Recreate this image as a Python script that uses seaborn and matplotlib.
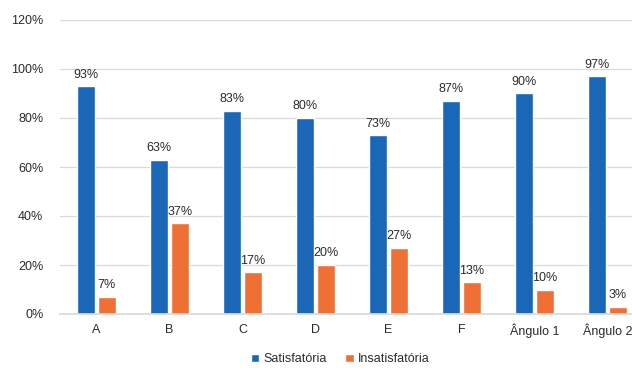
import matplotlib
matplotlib.use("Agg")
import matplotlib.pyplot as plt
from matplotlib.ticker import PercentFormatter
import seaborn as sns
import pandas as pd

categories = ["A", "B", "C", "D", "E", "F", "Ângulo 1", "Ângulo 2"]
satisfatoria = [93, 63, 83, 80, 73, 87, 90, 97]
insatisfatoria = [7, 37, 17, 20, 27, 13, 10, 3]
series_names = ["Satisfatória", "Insatisfatória"]
y_ticks = [0, 20, 40, 60, 80, 100, 120]

df = pd.DataFrame({
    "categoria": categories * 2,
    "valor": satisfatoria + insatisfatoria,
    "serie": [series_names[0]] * len(categories) + [series_names[1]] * len(categories),
})

sns.set_theme(style="white")
plt.rcParams["font.family"] = ["Liberation Sans", "DejaVu Sans"]

fig = plt.figure(figsize=(6.32, 3.68), dpi=100)
ax = fig.add_axes([60 / 632, 54 / 368, 584 / 632, 294 / 368])

palette = {series_names[0]: "#1B67B7", series_names[1]: "#EF7035"}
sns.barplot(data=df, x="categoria", y="valor", hue="serie", palette=palette,
            width=0.56, gap=0.12, ax=ax, saturation=1, legend=True)

for container in ax.containers:
    ax.bar_label(container, fmt="%d%%", padding=4, fontsize=9, color="#2b2b2b")

ax.set_ylim(0, 120)
ax.set_yticks(y_ticks)
ax.yaxis.set_major_formatter(PercentFormatter(decimals=0))
ax.grid(axis="y", color="#d9d9d9", linewidth=0.9)
ax.set_axisbelow(True)
for side in ["left", "right", "top"]:
    ax.spines[side].set_visible(False)
ax.spines["bottom"].set_color("#d9d9d9")
ax.set_xlabel("")
ax.set_ylabel("")
ax.tick_params(axis="both", length=0, labelsize=9, colors="#2b2b2b")
ax.tick_params(axis="y", pad=12)
ax.tick_params(axis="x", pad=7)

handles, labels = ax.get_legend_handles_labels()
ax.legend(handles, labels, loc="upper center", bbox_to_anchor=(340 / 632, 26 / 368),
          bbox_transform=fig.transFigure, ncol=2, frameon=False, fontsize=9,
          handlelength=0.7, handleheight=0.7, handletextpad=0.3, columnspacing=1.5,
          labelcolor="#2b2b2b")

fig.savefig("out.png", dpi=100)
